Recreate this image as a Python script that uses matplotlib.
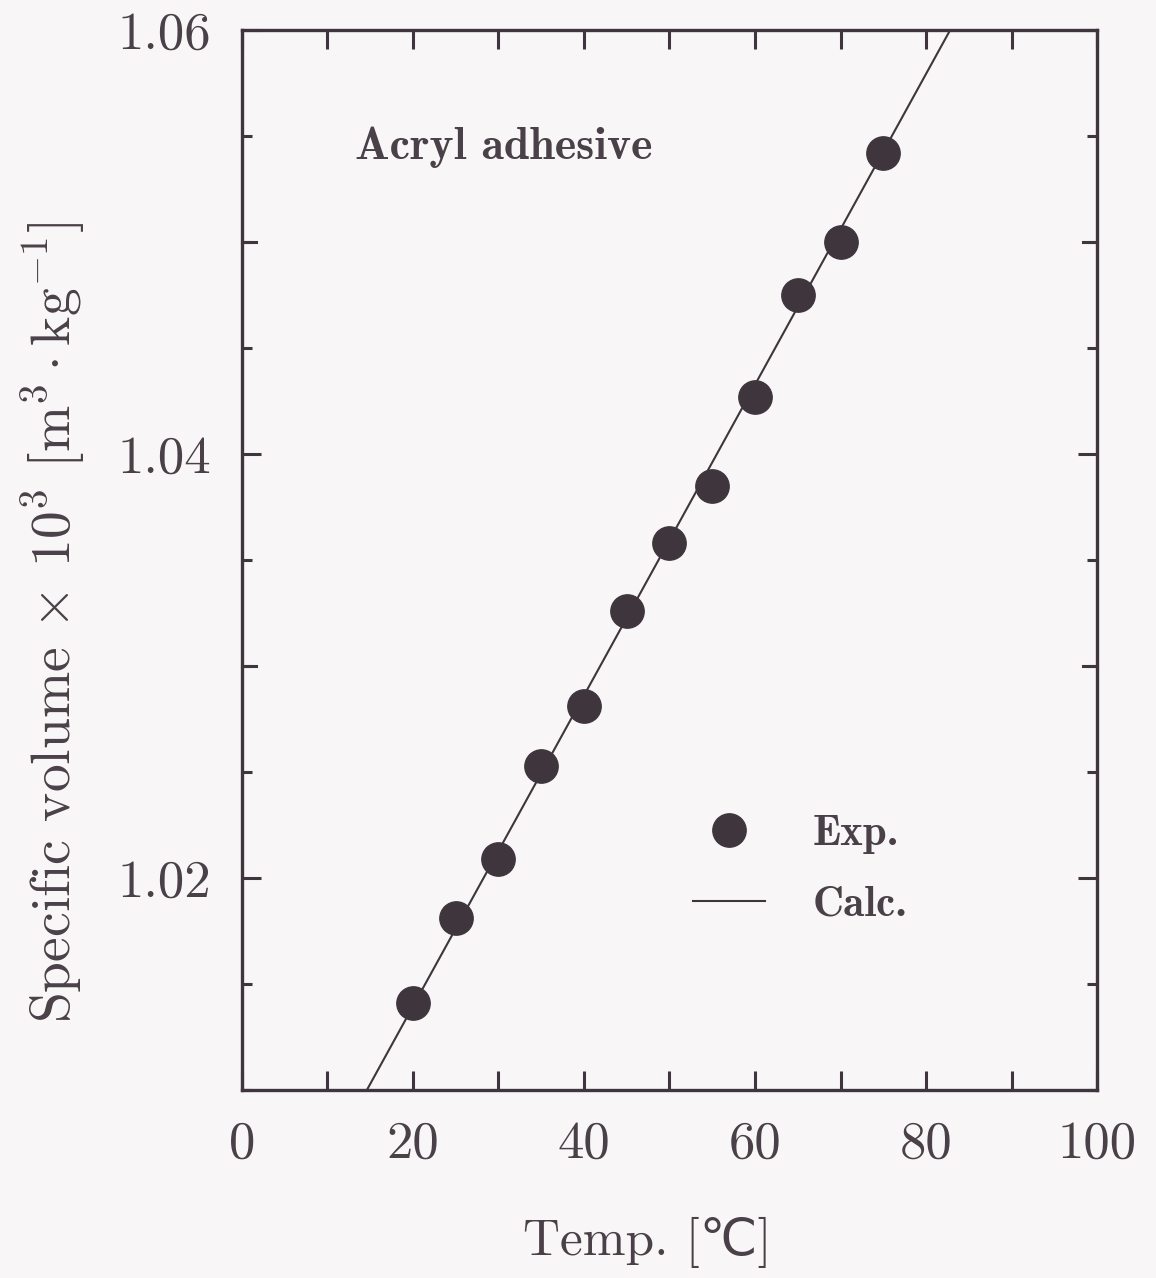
import matplotlib
matplotlib.use("Agg")
from matplotlib import pyplot as plt
from matplotlib.ticker import MultipleLocator

# experimental specific volume of the acryl adhesive
temp_exp = [20, 25, 30, 35, 40, 45, 50, 55, 60, 65, 70, 75]
vol_exp = [1.0141, 1.0181, 1.0209, 1.0253, 1.0281, 1.0326,
           1.0358, 1.0385, 1.0427, 1.0475, 1.0500, 1.0542]

# calculated line (two end points)
temp_calc = [10.0, 90.0]
vol_calc = [1.00662, 1.06526]

xtick_vals = [0, 20, 40, 60, 80, 100]
xtick_labels = ['0', '20', '40', '60', '80', '100']
ytick_vals = [1.02, 1.04, 1.06]
ytick_labels = ['1.02', '1.04', '1.06']

plt.rcParams['mathtext.fontset'] = 'cm'
ink = '#3e353d'
txt = '#4a4048'
bg = '#f8f6f7'

fig = plt.figure(figsize=(11.56, 12.78), dpi=100, facecolor=bg)
ax = fig.add_axes([0.2093, 0.1471, 0.7397, 0.8294])
ax.set_facecolor(bg)

ax.plot(temp_calc, vol_calc, color=ink, lw=1.5, label='Calc.', zorder=2)
ax.plot(temp_exp, vol_exp, 'o', color=ink, ms=24, mec=ink, label='Exp.', zorder=3)

ax.set_xlim(0, 100)
ax.set_ylim(1.01, 1.06)

ax.set_xticks(xtick_vals)
ax.set_xticklabels(xtick_labels)
ax.xaxis.set_minor_locator(MultipleLocator(10))
ax.set_yticks(ytick_vals)
ax.set_yticklabels(ytick_labels)
ax.yaxis.set_minor_locator(MultipleLocator(0.005))

for side in ['top', 'bottom', 'left', 'right']:
    ax.spines[side].set_linewidth(2.4)
    ax.spines[side].set_color(ink)

ax.tick_params(which='both', direction='in', top=True, right=True, color=ink, width=2.2)
ax.tick_params(axis='x', which='both', length=14)
ax.tick_params(axis='y', which='major', length=14)
ax.tick_params(axis='y', which='minor', length=7)
ax.tick_params(which='major', labelsize=38, labelcolor=txt, pad=22)
for lab in ax.get_xticklabels() + ax.get_yticklabels():
    lab.set_family('cmr10')

# longer ticks at 1.03 and 1.05 like the labelled ones
for yv in [1.03, 1.05]:
    ax.plot([0, 1.6], [yv, yv], color=ink, lw=2.2, clip_on=False, zorder=1)
    ax.plot([98.4, 100], [yv, yv], color=ink, lw=2.2, clip_on=False, zorder=1)

ax.set_xlabel('Temp. [\u2103]', fontsize=37, color=txt, family=['cmr10', 'DejaVu Sans'])
ax.xaxis.set_label_coords(0.474, -0.12)
ax.set_ylabel(r'Specific volume $\times$ 10$^{\mathbf{3}}$ [m$^{\mathbf{3}}\cdot$kg$^{-\mathbf{1}}$]',
              fontsize=40, color=txt, family='cmr10')
ax.yaxis.set_label_coords(-0.18, 0.441)

ax.text(0.132, 0.8896, 'Acryl adhesive', transform=ax.transAxes, fontsize=33,
        family='cmb10', color=txt, va='center', ha='left')

handles, labels = ax.get_legend_handles_labels()
leg = ax.legend(handles[::-1], labels[::-1], loc='upper left', bbox_to_anchor=(0.5275, 0.2597),
                frameon=False, borderpad=0, borderaxespad=0, handlelength=1.67, handletextpad=1.1,
                labelspacing=0.74, prop={'family': 'cmb10', 'size': 31}, markerscale=1.0)
for t in leg.get_texts():
    t.set_color(txt)

fig.savefig('out.png', dpi=100, facecolor=bg)
